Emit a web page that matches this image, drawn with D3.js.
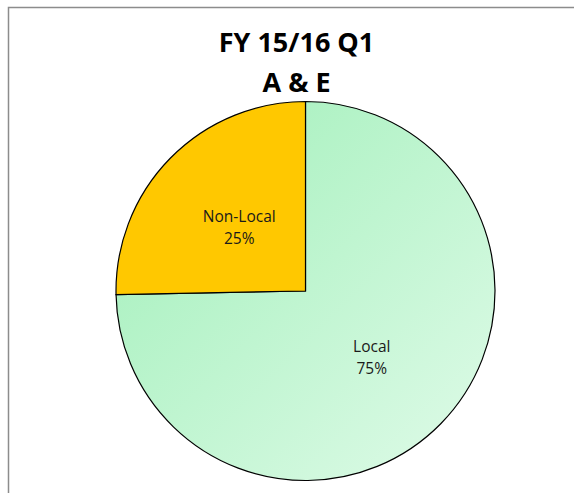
<!DOCTYPE html>
<html>
<head>
<meta charset="utf-8">
<script src="https://cdn.jsdelivr.net/npm/d3@7"></script>
<style>
  body { margin: 0; background: #fff; }
</style>
</head>
<body>
<div id="chart"></div>
<script>
// data
var categories = ["Local", "Non-Local"];
var shares = [74.7, 25.3];
var titleLines = ["FY 15/16 Q1", "A & E"];

var width = 574, height = 493;
var cx = 305.5, cy = 291, radius = 189.5;

var svg = d3.select("#chart")
  .append("svg")
    .attr("width", width)
    .attr("height", height);

// chart frame (runs off the right and bottom of the window)
svg.append("rect")
    .attr("x", 8.5)
    .attr("y", 7.5)
    .attr("width", 600)
    .attr("height", 520)
    .style("fill", "white")
    .style("stroke", "#8c8c8c")
    .style("stroke-width", 1.5);

// gradient in the pie group's own coordinates (centred on 0,0)
var defs = svg.append("defs");
var grad = defs.append("linearGradient")
    .attr("id", "localGrad")
    .attr("gradientUnits", "userSpaceOnUse")
    .attr("x1", -radius).attr("y1", -radius)
    .attr("x2", radius).attr("y2", radius);
grad.append("stop").attr("offset", "0%").attr("stop-color", "#9fefb8");
grad.append("stop").attr("offset", "100%").attr("stop-color", "#e0fbe9");

var color = d3.scaleOrdinal()
  .domain(categories)
  .range(["url(#localGrad)", "#ffc800"]);

var pie = d3.pie()
  .sort(null)
  .value(function(d, i) { return shares[i]; });

var arcs = pie(categories);

var arc = d3.arc().innerRadius(0).outerRadius(radius);
var labelArc = d3.arc().innerRadius(radius * 0.98).outerRadius(0);

var g = svg.append("g")
    .attr("transform", "translate(" + cx + "," + cy + ")");

g.selectAll("path")
  .data(arcs)
  .enter()
  .append("path")
    .attr("d", arc)
    .style("fill", function(d) { return color(d.data); })
    .style("stroke", "black")
    .style("stroke-width", 1.2)
    .style("stroke-linejoin", "miter");

// slice labels: name + rounded percent
var labels = g.selectAll("text.lbl")
  .data(arcs)
  .enter()
  .append("text")
    .attr("class", "lbl")
    .attr("transform", function(d) { return "translate(" + labelArc.centroid(d) + ")"; })
    .attr("text-anchor", "middle")
    .attr("font-family", "Open Sans, sans-serif")
    .attr("font-size", "15.5px")
    .attr("fill", "#1a1a1a");

labels.append("tspan")
    .attr("x", 0)
    .attr("dy", "-0.25em")
    .text(function(d) { return d.data; });
labels.append("tspan")
    .attr("x", 0)
    .attr("dy", "1.4em")
    .text(function(d) { return Math.round(d.value) + "%"; });

// title
svg.selectAll("text.title")
  .data(titleLines)
  .enter()
  .append("text")
    .attr("class", "title")
    .attr("x", 296.5)
    .attr("y", function(d, i) { return 52 + i * 40; })
    .attr("text-anchor", "middle")
    .attr("font-family", "Open Sans, sans-serif")
    .attr("font-weight", "bold")
    .attr("font-size", "27px")
    .attr("fill", "black")
    .text(function(d) { return d; });
</script>
</body>
</html>
